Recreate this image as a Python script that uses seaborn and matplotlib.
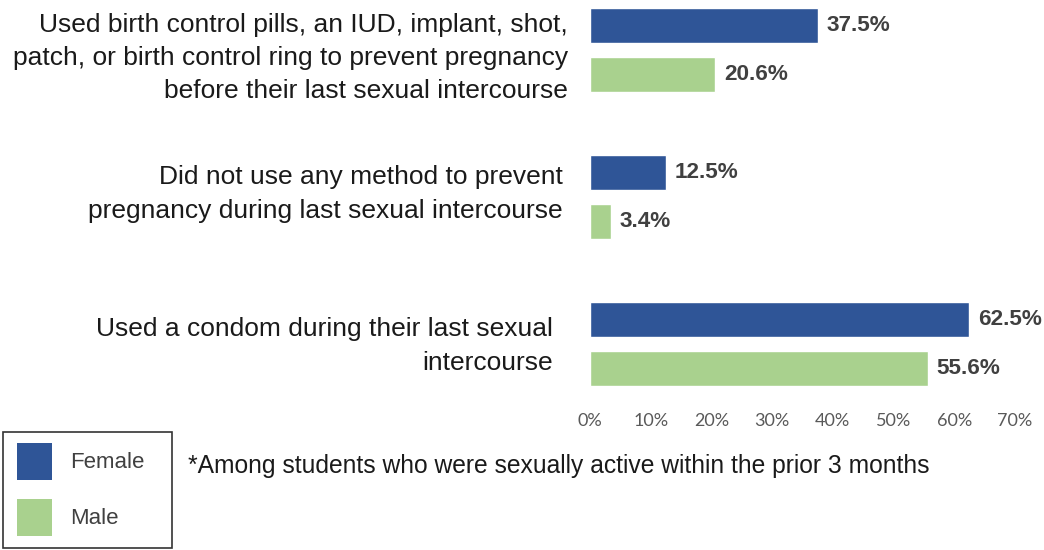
import matplotlib
matplotlib.use("Agg")
import matplotlib.pyplot as plt
import matplotlib.transforms as mtrans
from matplotlib.patches import Patch, Rectangle
import seaborn as sns
import pandas as pd

categories = [
    "Used birth control pills, an IUD, implant, shot,\npatch, or birth control ring to prevent pregnancy\nbefore their last sexual intercourse",
    "Did not use any method to prevent\npregnancy during last sexual intercourse",
    "Used a condom during their last sexual\nintercourse",
]
female = [37.5, 12.5, 62.5]
male = [20.6, 3.4, 55.6]
series = ["Female", "Male"]
colors = ["#2F5597", "#A9D18E"]
xticks = [0, 10, 20, 30, 40, 50, 60, 70]
footnote = "*Among students who were sexually active within the prior 3 months"

df = pd.DataFrame({
    "cat": categories * 2,
    "val": female + male,
    "sex": [series[0]] * 3 + [series[1]] * 3,
})

sns.set_theme(style="white")
plt.rcParams["font.family"] = ["Liberation Sans", "DejaVu Sans"]

fig = plt.figure(figsize=(10.44, 5.5), dpi=100)
ax = fig.add_axes([590 / 1044, 1 - 395 / 550, 425 / 1044, 395 / 550])

sns.barplot(data=df, y="cat", x="val", hue="sex", orient="h",
            palette=colors, width=0.673, gap=0.29, ax=ax, legend=False,
            saturation=1)

for cont in ax.containers:
    for bar in cont:
        w = bar.get_width()
        ax.text(w + 1.5, bar.get_y() + bar.get_height() / 2, f"{w:.1f}%",
                va="center", ha="left", fontsize=16.2, fontweight="bold",
                color="#404040")

ax.set_xlim(0, 70)
ax.set_ylim(2.347, -0.34)
ax.set_xticks(xticks)
ax.set_xticklabels([f"{t}%" for t in xticks], fontsize=13, color="#595959",
                   family=["Lato", "DejaVu Sans"])
ax.tick_params(axis="x", length=0, pad=13)
ax.set_yticks([])
ax.set_xlabel("")
ax.set_ylabel("")
for s in ax.spines.values():
    s.set_visible(False)

label_offsets = [-22, -27, -37]
label_dy = [0.054, -0.02, 0.014]
for i, (lab, dx) in enumerate(zip(categories, label_offsets)):
    tr = mtrans.offset_copy(ax.get_yaxis_transform(), fig=fig, x=dx, y=0, units="dots")
    ax.text(0, i + label_dy[i], lab, transform=tr, ha="right", va="center",
            fontsize=19, color="#1a1a1a", linespacing=1.49, multialignment="right")

handles = [Patch(facecolor=c, edgecolor="none", label=s) for c, s in zip(colors, series)]
leg = fig.legend(handles=handles, loc="upper left", bbox_to_anchor=(17 / 1044, 1 - 443 / 550),
                 frameon=False, fontsize=16, handlelength=1.58, handleheight=2.19,
                 labelspacing=0.85, borderpad=0, handletextpad=0.81,
                 borderaxespad=0)
for t in leg.get_texts():
    t.set_color("#404040")

fig.patches.append(Rectangle((3 / 1044, 1 - 548 / 550), 169 / 1044, 116 / 550,
                             transform=fig.transFigure, fill=False,
                             edgecolor="#333333", linewidth=1.2))

fig.text(188 / 1044, 1 - 466 / 550, footnote, fontsize=17.7, color="#1a1a1a",
         ha="left", va="center")

fig.savefig("out.png", dpi=100)
